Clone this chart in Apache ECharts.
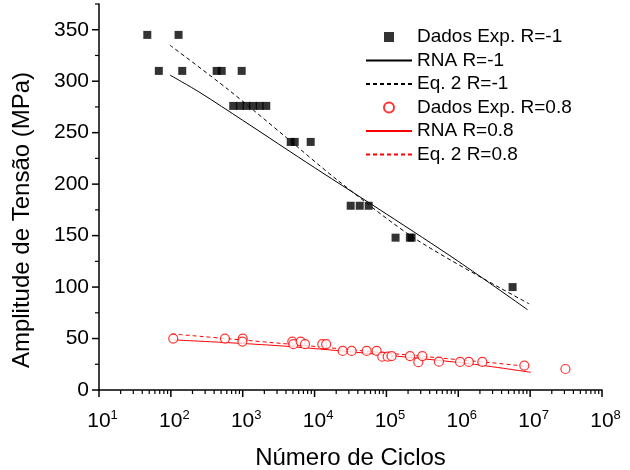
<!DOCTYPE html>
<html>
<head>
<meta charset="utf-8">
<script src="https://cdn.jsdelivr.net/npm/echarts@6/dist/echarts.min.js"></script>
<style>
  html, body { margin: 0; padding: 0; background: #fff; }
  #chart { width: 630px; height: 470px; }
</style>
</head>
<body>
<div id="chart"></div>
<script>
var FONT = 'Liberation Sans, Arial, sans-serif';

// legend names
var seriesNames = ['Dados Exp. R=-1', 'RNA R=-1', 'Eq. 2 R=-1', 'Dados Exp. R=0.8', 'RNA R=0.8', 'Eq. 2 R=0.8'];

// experimental points R=-1 (cycles, stress MPa)
var expCyclesA = [47, 128, 68, 144, 434, 510, 968, 738, 912, 1127, 1393, 1722, 2128, 4660, 5290, 8830, 31800, 42500, 56600, 134000, 212000, 224000, 5700000];
var expStressA = [345, 345, 310, 310, 310, 310, 310, 276, 276, 276, 276, 276, 276, 241, 241, 241, 179, 179, 179, 148, 148, 148, 100];

// RNA curve R=-1
var rnaCyclesA = [97, 254, 1000, 10000, 100000, 1000000, 9200000];
var rnaStressA = [306, 289, 262, 216, 171, 125, 78];

// Eq. 2 curve R=-1
var eqCyclesA = [97, 625, 4090, 20300, 264000, 9700000];
var eqStressA = [335, 292, 245, 204.5, 146, 83.7];

// experimental points R=0.8
var expCyclesB = [108, 566, 1000, 990, 4900, 5070, 6400, 7360, 12800, 14500, 24600, 32800, 53100, 73100, 87500, 104000, 118000, 213000, 278000, 316000, 538000, 1060000, 1400000, 2160000, 8300000, 31000000];
var expStressB = [50, 50, 50, 47, 47, 44.5, 47, 44.5, 44.5, 44.5, 38, 38, 38, 38, 32.4, 32.4, 33, 33, 27, 33, 27.5, 27.3, 27.3, 27.3, 23.7, 20.4];

// RNA curve R=0.8
var rnaCyclesB = [108, 4570, 1060000, 10200000];
var rnaStressB = [48.7, 42.2, 26.6, 17.2];

// Eq. 2 curve R=0.8
var eqCyclesB = [103, 4570, 2760000, 8000000];
var eqStressB = [54.5, 44.5, 26.6, 23.4];

// axis ticks
var xMajorTicks = [10, 100, 1000, 10000, 100000, 1000000, 10000000, 100000000];
var yMajorTicks = [0, 50, 100, 150, 200, 250, 300, 350];
var yMinorTicks = [25, 75, 125, 175, 225, 275, 325, 375];
var xMinorTicks = [];
for (var k = 1; k < 8; k++) {
  for (var m = 2; m < 10; m++) {
    xMinorTicks.push(m * Math.pow(10, k));
  }
}

var MAJOR_LEN = 7;
var MINOR_LEN = 4;

function pairs(xs, ys) {
  return xs.map(function (x, i) { return [x, ys[i]]; });
}

var SQUARE = 'path://M0,0L10,0L10,10L0,10Z';

var yTitle = {
  type: 'text',
  x: 22,
  y: 220,
  rotation: Math.PI / 2,
  style: {
    text: 'Amplitude de Tensão (MPa)',
    font: '24px ' + FONT,
    fill: '#000',
    textAlign: 'center',
    textVerticalAlign: 'middle'
  }
};

var chart = echarts.init(document.getElementById('chart'));

var option = {
  animation: false,
  grid: { left: 99, right: 28, top: 4, bottom: 80, outerBoundsMode: 'none' },
  legend: {
    orient: 'vertical',
    left: 365,
    top: 27,
    padding: 0,
    itemWidth: 46,
    itemHeight: 10,
    itemGap: 3.5,
    symbolKeepAspect: true,
    textStyle: { fontFamily: FONT, fontSize: 19, color: '#000', lineHeight: 20 },
    data: [
      { name: seriesNames[0], icon: SQUARE },
      { name: seriesNames[1], itemStyle: { opacity: 0 } },
      { name: seriesNames[2], itemStyle: { opacity: 0 } },
      { name: seriesNames[3] },
      { name: seriesNames[4], itemStyle: { opacity: 0 } },
      { name: seriesNames[5], itemStyle: { opacity: 0 } }
    ]
  },
  graphic: [yTitle],
  xAxis: {
    type: 'log',
    min: 10,
    max: 100000000,
    name: 'Número de Ciclos',
    nameLocation: 'middle',
    nameGap: 56,
    nameTextStyle: { fontFamily: FONT, fontSize: 24, color: '#000' },
    axisLine: { show: true, lineStyle: { color: '#000', width: 1.5 } },
    axisTick: { show: false },
    splitLine: { lineStyle: { opacity: 0 } },
    axisLabel: {
      margin: 19,
      color: '#000',
      formatter: function (v) {
        return '{a|10}{b|' + Math.round(Math.log10(v)) + '}';
      },
      rich: {
        a: { fontFamily: FONT, fontSize: 21, color: '#000', padding: [0, 0, 0, 7] },
        b: { fontFamily: FONT, fontSize: 13, color: '#000', padding: [0, 0, 11, 0] }
      }
    }
  },
  yAxis: {
    type: 'value',
    min: 0,
    max: 375,
    interval: 50,
    axisLine: { show: true, lineStyle: { color: '#000', width: 1.5 } },
    axisTick: { show: false },
    splitLine: { lineStyle: { opacity: 0 } },
    axisLabel: { showMaxLabel: false, margin: 10, fontFamily: FONT, fontSize: 21, color: '#000' }
  },
  series: [{
    name: seriesNames[0],
    type: 'scatter',
    symbol: 'rect',
    symbolSize: 8,
    itemStyle: { color: '#000' },
    data: pairs(expCyclesA, expStressA),
    z: 3
  }, {
    name: seriesNames[1],
    type: 'line',
    symbol: 'none',
    smooth: 0.3,
    lineStyle: { color: '#000', width: 1 },
    itemStyle: { color: '#000' },
    data: pairs(rnaCyclesA, rnaStressA)
  }, {
    name: seriesNames[2],
    type: 'line',
    symbol: 'none',
    smooth: 0.3,
    lineStyle: { color: '#000', width: 1, type: [4, 3] },
    itemStyle: { color: '#000' },
    data: pairs(eqCyclesA, eqStressA)
  }, {
    name: seriesNames[3],
    type: 'scatter',
    symbol: 'circle',
    symbolSize: 9,
    itemStyle: { color: '#fff', borderColor: '#ff0000', borderWidth: 1.2 },
    data: pairs(expCyclesB, expStressB),
    z: 3
  }, {
    name: seriesNames[4],
    type: 'line',
    symbol: 'none',
    smooth: 0.3,
    lineStyle: { color: '#ff0000', width: 1 },
    itemStyle: { color: '#ff0000' },
    data: pairs(rnaCyclesB, rnaStressB)
  }, {
    name: seriesNames[5],
    type: 'line',
    symbol: 'none',
    smooth: 0.3,
    lineStyle: { color: '#ff0000', width: 1, type: [4, 3] },
    itemStyle: { color: '#ff0000' },
    data: pairs(eqCyclesB, eqStressB)
  }]
};

chart.setOption(option);

// tick marks, placed with the axes' own scales
var x0 = chart.convertToPixel({ xAxisIndex: 0 }, 10);
var y0 = chart.convertToPixel({ yAxisIndex: 0 }, 0);

function tickLine(x1, y1, x2, y2, w) {
  return { type: 'line', shape: { x1: x1, y1: y1, x2: x2, y2: y2 }, style: { stroke: '#000', lineWidth: w }, z: 10 };
}

var ticks = [yTitle];
xMajorTicks.forEach(function (v) {
  var x = chart.convertToPixel({ xAxisIndex: 0 }, v);
  ticks.push(tickLine(x, y0, x, y0 + MAJOR_LEN, 1.5));
});
xMinorTicks.forEach(function (v) {
  var x = chart.convertToPixel({ xAxisIndex: 0 }, v);
  ticks.push(tickLine(x, y0, x, y0 + MINOR_LEN, 1.2));
});
yMajorTicks.forEach(function (v) {
  var y = chart.convertToPixel({ yAxisIndex: 0 }, v);
  ticks.push(tickLine(x0 - MAJOR_LEN, y, x0, y, 1.5));
});
yMinorTicks.forEach(function (v) {
  var y = chart.convertToPixel({ yAxisIndex: 0 }, v);
  ticks.push(tickLine(x0 - MINOR_LEN, y, x0, y, 1.2));
});

chart.setOption({ graphic: ticks });
</script>
</body>
</html>
